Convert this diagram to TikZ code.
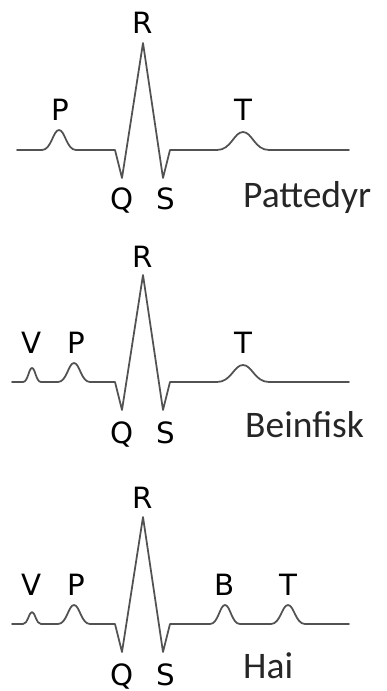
\documentclass[tikz,border=0pt]{standalone}
\usepackage{fontspec}
\newfontfamily\lblfont{DejaVu Sans}
\newfontfamily\namefont{Carlito}

% one smooth wave: centre, half width, height (y grows downwards)
\newcommand{\bump}[4]{-- (#1-#2,#4) .. controls (#1-0.45*#2,#4) and (#1-0.35*#2,#4-#3) .. (#1,#4-#3)
  .. controls (#1+0.35*#2,#4-#3) and (#1+0.45*#2,#4) .. (#1+#2,#4)}
% Q, R and S spikes on baseline #1
\newcommand{\qrs}[1]{-- (115,#1) -- (122,#1+28) -- (143,#1-107) -- (163,#1+28) -- (170,#1)}

\begin{document}
\begin{tikzpicture}[x=0.03cm, y=-0.03cm,
    trace/.style={draw=black!68, line width=1.5pt, line join=round, line cap=round},
    wavelabel/.style={font=\lblfont\fontsize{25}{25}\selectfont, anchor=base, inner sep=0pt},
    namelabel/.style={font=\namefont\fontsize{32}{32}\selectfont, anchor=base west, inner sep=0pt, text=black!85}
]
    \useasboundingbox (0,0) rectangle (386,691);

    % mammal
    \draw[trace] (17,150) \bump{59}{17}{20}{150} \qrs{150} \bump{243}{26}{18}{150} -- (349,150);
    \node[wavelabel] (p1) at (60,120) {P};
    \node[wavelabel] (r1) at (143,33) {R};
    \node[wavelabel] (q1) at (122,209) {Q};
    \node[wavelabel] (s1) at (166,209) {S};
    \node[wavelabel] (t1) at (243,120) {T};
    \node[namelabel] (name1) at (243,207) {Pattedyr};

    % bony fish
    \draw[trace] (12,382) \bump{32}{9}{14}{382} \bump{74}{16}{19}{382} \qrs{382} \bump{243}{26}{17}{382} -- (349,382);
    \node[wavelabel] (v2) at (32,353) {V};
    \node[wavelabel] (p2) at (76,353) {P};
    \node[wavelabel] (r2) at (143,267) {R};
    \node[wavelabel] (q2) at (122,443) {Q};
    \node[wavelabel] (s2) at (166,443) {S};
    \node[wavelabel] (t2) at (243,353) {T};
    \node[namelabel] (name2) at (245,437) {Beinfisk};

    % shark
    \draw[trace] (12,624) \bump{32}{9}{12}{624} \bump{74}{16}{19}{624} \qrs{624} \bump{225}{15}{19}{624} \bump{288}{17}{19}{624} -- (349,624);
    \node[wavelabel] (v3) at (32,595) {V};
    \node[wavelabel] (p3) at (76,595) {P};
    \node[wavelabel] (r3) at (143,508) {R};
    \node[wavelabel] (q3) at (122,685) {Q};
    \node[wavelabel] (s3) at (166,685) {S};
    \node[wavelabel] (b3) at (225,595) {B};
    \node[wavelabel] (t3) at (288,595) {T};
    \node[namelabel] (name3) at (243,678) {Hai};
\end{tikzpicture}
\end{document}
